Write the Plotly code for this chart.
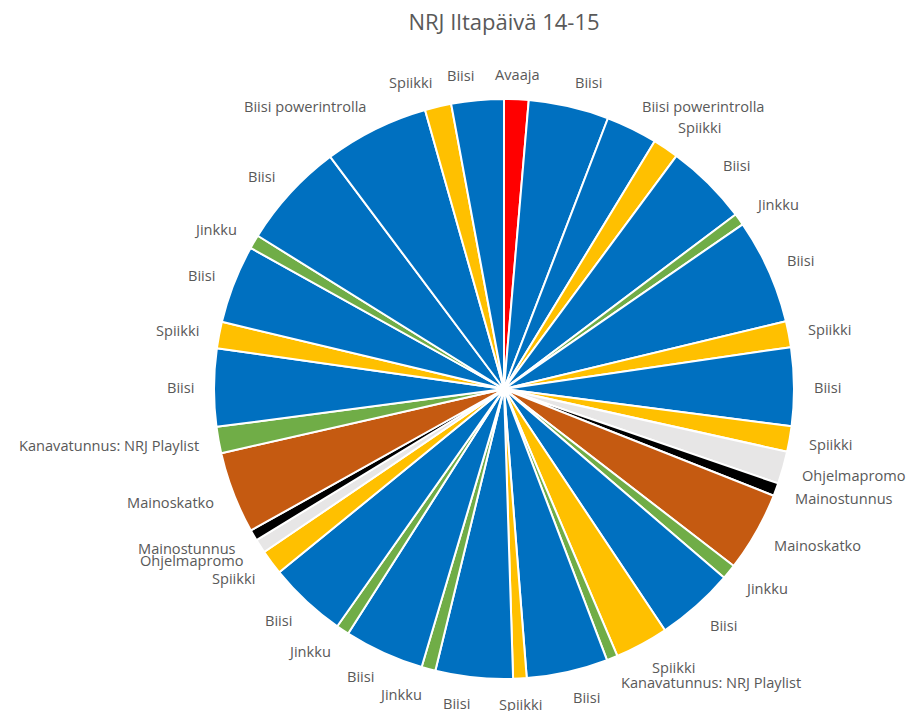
import math
import plotly.graph_objects as go

categories = ["Avaaja", "Biisi", "Biisi powerintrolla", "Spiikki", "Biisi", "Jinkku", "Biisi",
              "Spiikki", "Biisi", "Spiikki", "Ohjelmapromo", "Mainostunnus", "Mainoskatko",
              "Jinkku", "Biisi", "Spiikki", "Kanavatunnus: NRJ Playlist", "Biisi", "Spiikki",
              "Biisi", "Jinkku", "Biisi", "Jinkku", "Biisi", "Spiikki", "Ohjelmapromo",
              "Mainostunnus", "Mainoskatko", "Kanavatunnus: NRJ Playlist", "Biisi", "Spiikki",
              "Biisi", "Jinkku", "Biisi", "Biisi powerintrolla", "Spiikki", "Biisi"]

# durations in seconds (10 s per degree)
durations = [49, 161, 103, 52, 165, 24, 211, 52, 157, 51, 65, 26, 160, 30, 157, 107, 22, 163, 27,
             155, 28, 160, 26, 157, 50, 28, 22, 164, 53, 156, 53, 157, 28, 213, 210, 53, 105]

color_map = {
    "Avaaja": "#FF0000",
    "Biisi": "#0070C0",
    "Biisi powerintrolla": "#0070C0",
    "Spiikki": "#FFC000",
    "Jinkku": "#70AD47",
    "Kanavatunnus: NRJ Playlist": "#70AD47",
    "Ohjelmapromo": "#E7E6E6",
    "Mainostunnus": "#000000",
    "Mainoskatko": "#C55A11",
}

ids = [f"{i:02d} {c}" for i, c in enumerate(categories)]

W, H = 907, 711
CX, CY, R = 504, 389, 290
RL = 308  # distance of the label anchor from the pie centre
LABEL_FONT = dict(family="Open Sans", size=14.6, color="#595959")

fig = go.Figure()
fig.add_trace(go.Pie(
    labels=ids,
    values=durations,
    text=categories,
    textinfo="none",
    sort=False,
    direction="clockwise",
    rotation=0,
    marker=dict(colors=[color_map[c] for c in categories], line=dict(color="white", width=2)),
    domain=dict(x=[(CX - R) / W, (CX + R) / W], y=[1 - (CY + R) / H, 1 - (CY - R) / H]),
    showlegend=False,
    hovertemplate="%{text}: %{value}<extra></extra>",
    automargin=False,
))

# outside-end category labels, placed at each slice's middle angle (clockwise from 12 o'clock)
total = sum(durations)
cum = 0
annotations = []
for name, v in zip(categories, durations):
    mid = (cum + v / 2) / total * 2 * math.pi
    cum += v
    s, c = math.sin(mid), math.cos(mid)
    px = CX + RL * s
    py = CY - RL * c
    if s > 0.08:
        xa = "left"
    elif s < -0.08:
        xa = "right"
    else:
        xa = "center"
    annotations.append(dict(
        x=px / W, y=1 - py / H, xref="paper", yref="paper",
        text=name, showarrow=False, xanchor=xa, yanchor="middle",
        yshift=7.5 * c, font=LABEL_FONT,
    ))

fig.update_layout(
    width=W, height=H,
    margin=dict(l=0, r=0, t=0, b=0),
    paper_bgcolor="white",
    annotations=annotations,
    title=dict(text="NRJ Iltapäivä 14-15", x=CX / W, xanchor="center", y=1 - 22 / H, yanchor="middle",
               font=dict(family="Open Sans", size=22, color="#595959")),
)

fig.write_html("out.html")
